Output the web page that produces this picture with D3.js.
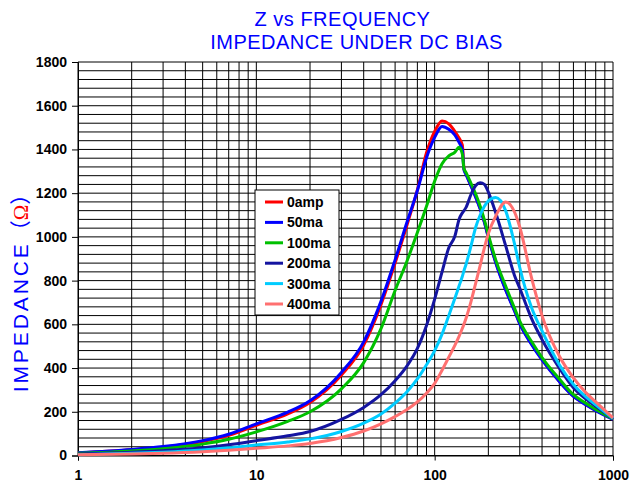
<!DOCTYPE html>
<html>
<head>
<meta charset="utf-8">
<script src="https://cdn.jsdelivr.net/npm/d3@7"></script>
<style>
body { margin: 0; background: #fff; }
svg { display: block; font-family: "Liberation Sans", Arial, sans-serif; }
</style>
</head>
<body>
<script>
// frequency points (Hz) shared by every series
var freq = [1, 2, 3, 5, 7, 10, 15, 20, 30, 40,
            50, 60, 70, 80, 90, 100, 110, 120, 130, 137,
            143, 146, 150, 160, 170, 180, 190, 200, 220, 250,
            280, 300, 350, 400, 500, 600, 700, 800, 1000];

// impedance (ohm) per bias current
var z0amp  = [12, 26, 38, 64, 92, 138, 190, 242, 368, 505,
              690, 880, 1055, 1215, 1385, 1482, 1530, 1517, 1482, 1452,
              1420, 1312, 1288, 1234, 1183, 1130, 1070, 1000, 885, 760,
              665, 605, 510, 440, 340, 272, 235, 207, 166];
var z50ma  = [13, 28, 41, 68, 97, 145, 198, 250, 380, 520,
              705, 895, 1068, 1212, 1362, 1455, 1505, 1492, 1465, 1432,
              1398, 1306, 1285, 1232, 1180, 1127, 1066, 997, 882, 757,
              662, 602, 507, 437, 338, 270, 233, 205, 165];
var z100ma = [10, 21, 31, 52, 74, 108, 156, 200, 305, 425,
              580, 755, 890, 1020, 1140, 1255, 1335, 1370, 1388, 1410,
              1378, 1312, 1294, 1244, 1195, 1140, 1078, 1010, 895, 775,
              675, 615, 520, 448, 350, 278, 240, 211, 168];
var z200ma = [7, 15, 22, 35, 49, 68, 90, 110, 165, 220,
              278, 342, 410, 490, 595, 715, 840, 950, 1005, 1080,
              1110, 1120, 1135, 1195, 1235, 1248, 1240, 1205, 1110, 960,
              825, 765, 625, 530, 400, 310, 260, 225, 170];
var z300ma = [4, 10, 15, 25, 35, 48, 62, 76, 110, 148,
              190, 240, 292, 350, 415, 480, 555, 640, 720, 775,
              820, 845, 875, 960, 1045, 1100, 1140, 1165, 1180, 1120,
              970, 860, 675, 570, 415, 325, 270, 232, 170];
var z400ma = [3, 7, 10, 17, 24, 33, 44, 55, 82, 112,
              145, 178, 210, 245, 285, 330, 390, 450, 505, 545,
              582, 601, 628, 705, 790, 870, 950, 1015, 1095, 1160,
              1115, 1045, 810, 640, 455, 355, 290, 245, 172];

var seriesNames = ["0amp", "50ma", "100ma", "200ma", "300ma", "400ma"];
var seriesValues = [z0amp, z50ma, z100ma, z200ma, z300ma, z400ma];
var seriesColors = ["#ff0000", "#0000ff", "#00c000", "#1414a0", "#00ccff", "#ff7070"];

var xTicks = [1, 10, 100, 1000];
var yTicks = d3.range(0, 1801, 200);

var width = 631, height = 482;
var plot = { left: 78, right: 613, top: 62, bottom: 455.5 };

var svg = d3.select("body").append("svg")
    .attr("width", width)
    .attr("height", height);

var x = d3.scaleLog().domain([1, 1000]).range([plot.left, plot.right]);
var y = d3.scaleLinear().domain([0, 1800]).range([plot.bottom, plot.top]);

// titles
svg.append("text")
    .attr("x", 342.5).attr("y", 26)
    .attr("text-anchor", "middle")
    .attr("font-size", 20)
    .attr("letter-spacing", 0.5)
    .attr("fill", "#0000ff")
    .text("Z vs FREQUENCY");
svg.append("text")
    .attr("x", 356.5).attr("y", 48.5)
    .attr("text-anchor", "middle")
    .attr("font-size", 20)
    .attr("letter-spacing", 0.5)
    .attr("fill", "#0000ff")
    .text("IMPEDANCE UNDER DC BIAS");

// grid
var vLines = [];
[1, 10, 100].forEach(function(dec) {
    for (var k = 1; k < 10; k++) vLines.push(k * dec);
});
vLines.push(1000);

var grid = svg.append("g").attr("stroke", "#000").attr("stroke-width", 1);
grid.selectAll("line.v")
    .data(vLines)
    .enter().append("line")
    .attr("class", "v")
    .attr("x1", function(d) { return x(d); })
    .attr("x2", function(d) { return x(d); })
    .attr("y1", plot.top)
    .attr("y2", plot.bottom);
grid.selectAll("line.h")
    .data(d3.range(0, 1801, 40))
    .enter().append("line")
    .attr("class", "h")
    .attr("x1", plot.left)
    .attr("x2", plot.right)
    .attr("y1", function(d) { return y(d); })
    .attr("y2", function(d) { return y(d); });

// axes
var yAxis = svg.append("g")
    .attr("transform", "translate(" + plot.left + ",0)")
    .call(d3.axisLeft(y).tickValues(yTicks).tickSize(6).tickPadding(5).tickFormat(d3.format("d")));
var xAxis = svg.append("g")
    .attr("transform", "translate(0," + plot.bottom + ")")
    .call(d3.axisBottom(x).tickValues(xTicks).tickSize(5).tickPadding(9.5).tickFormat(d3.format("d")));

[yAxis, xAxis].forEach(function(a) {
    a.selectAll("text")
        .attr("font-family", "'Liberation Sans', Arial, sans-serif")
        .attr("font-size", 14)
        .attr("font-weight", "bold")
        .attr("fill", "#000");
    a.selectAll("line, path").attr("stroke", "#000");
});

// y axis title
var ylab = svg.append("text")
    .attr("transform", "translate(28,288) rotate(-90)")
    .attr("text-anchor", "middle")
    .attr("font-size", 21);
ylab.append("tspan").attr("fill", "#0000ff").attr("letter-spacing", 2.9).text("IMPEDANCE");
ylab.append("tspan").attr("fill", "#0000ff").attr("font-family", "'Noto Sans CJK JP'").text("（");
ylab.append("tspan").attr("fill", "#ff0000").attr("font-family", "'Liberation Serif', serif").text("Ω");
ylab.append("tspan").attr("fill", "#0000ff").attr("font-family", "'Noto Sans CJK JP'").text("）");

// curves
var line = d3.line()
    .x(function(d) { return x(d[0]); })
    .y(function(d) { return y(d[1]); })
    .curve(d3.curveMonotoneX);

svg.append("g")
    .selectAll("path")
    .data(seriesValues)
    .enter().append("path")
    .attr("fill", "none")
    .attr("stroke", function(d, i) { return seriesColors[i]; })
    .attr("stroke-width", 3)
    .attr("stroke-linejoin", "round")
    .attr("d", function(vals) {
        return line(freq.map(function(f, j) { return [f, vals[j]]; }));
    });

// legend
var legend = svg.append("g").attr("transform", "translate(255,190)");
legend.append("rect")
    .attr("width", 84)
    .attr("height", 125)
    .attr("fill", "#fff")
    .attr("stroke", "#000");

var items = legend.selectAll("g")
    .data(seriesNames)
    .enter().append("g")
    .attr("transform", function(d, i) { return "translate(0," + (12 + i * 20.4) + ")"; });
items.append("line")
    .attr("x1", 10).attr("x2", 28)
    .attr("stroke", function(d, i) { return seriesColors[i]; })
    .attr("stroke-width", 3);
items.append("text")
    .attr("x", 32)
    .attr("y", 5)
    .attr("font-size", 14)
    .attr("font-weight", "bold")
    .text(function(d) { return d; });
</script>
</body>
</html>
